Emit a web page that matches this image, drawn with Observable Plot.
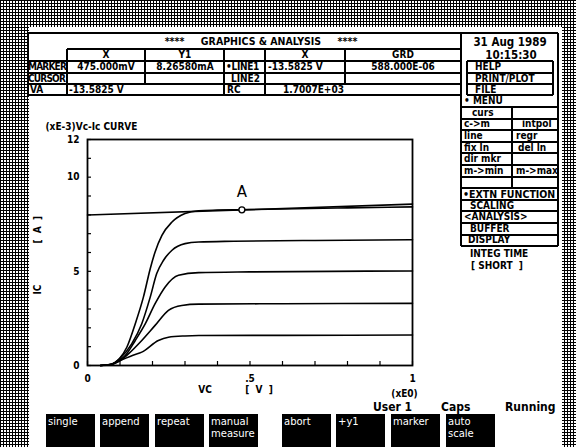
<!DOCTYPE html>
<html>
<head>
<meta charset="utf-8">
<script src="https://cdn.jsdelivr.net/npm/d3@7"></script>
<script src="https://cdn.jsdelivr.net/npm/@observablehq/plot@0.6"></script>
<style>
  html, body { margin: 0; padding: 0; }
  body {
    width: 576px; height: 447px; overflow: hidden; position: relative;
    background-color: #fff;
    background-image: linear-gradient(#000 1px, transparent 1px), linear-gradient(90deg, #000 1px, transparent 1px);
    background-size: 3px 3px;
    font-family: "DejaVu Sans Condensed", "DejaVu Sans", sans-serif;
  }
  #screen { position: absolute; left: 29px; top: 27px; width: 533px; height: 420px; background: #fff; }
  #chart { position: absolute; left: 0; top: 0; }
  .ln { position: absolute; background: #000; }
  .t { position: absolute; font-weight: bold; font-size: 10px; line-height: 10px; white-space: pre; color: #000; }
  .key { position: absolute; background: #000; color: #fff; font-size: 10px; line-height: 12px; white-space: pre; padding: 2px 0 0 2px; box-sizing: border-box; font-family: "DejaVu Sans", sans-serif; }
  .stat { position: absolute; font-size: 12px; line-height: 12px; font-weight: bold; white-space: pre; font-family: "DejaVu Sans Condensed", sans-serif; }
</style>
</head>
<body>
<div id="screen"></div>
<div id="chart"></div>
<div id="overlay"></div>
<script>
// ---------- data ----------
const curveTop = [[0.04,0],[0.07,0.05],[0.098,0.36],[0.121,0.97],[0.147,2.22],[0.172,3.63],[0.193,5.14],[0.208,6.03],[0.229,6.91],[0.26,7.62],[0.3,8.07],[0.342,8.22],[0.4,8.25],[0.475,8.27],[0.6,8.31],[0.8,8.37],[1.0,8.42]];
const curve2 = [[0.04,0],[0.07,0.05],[0.1,0.38],[0.136,1.15],[0.167,2.22],[0.193,3.63],[0.213,4.88],[0.234,5.59],[0.26,6.12],[0.3,6.47],[0.342,6.56],[0.45,6.6],[0.7,6.64],[1.0,6.68]];
const curve3 = [[0.04,0],[0.07,0.05],[0.1,0.3],[0.116,0.53],[0.147,1.33],[0.178,2.22],[0.208,3.28],[0.239,4.17],[0.28,4.79],[0.342,4.93],[0.5,4.97],[0.75,5.0],[1.0,5.02]];
const curve4 = [[0.04,0],[0.07,0.05],[0.106,0.33],[0.126,0.62],[0.167,1.33],[0.208,2.13],[0.249,2.93],[0.29,3.19],[0.342,3.26],[0.6,3.28],[1.0,3.3]];
const curve5 = [[0.04,0],[0.07,0.04],[0.106,0.3],[0.14,0.55],[0.167,0.71],[0.218,1.33],[0.249,1.5],[0.3,1.57],[0.342,1.59],[0.6,1.6],[1.0,1.62]];
const line1 = [[0,7.99],[1,8.57]];           // regression LINE1
const markerA = [[0.475, 8.2658]];
const xTickLabels = {0: "0", 0.5: ".5", 1: "1"};
const yTickLabels = [0, 5, 10, 12];
const xMinorTicks = d3.range(0, 11).map(i => i / 10);
const yMinorTicks = d3.range(0, 13);

const series = [curveTop, curve2, curve3, curve4, curve5].flatMap((c, i) => c.map(([x, y]) => ({x, y, s: i})));
const nb = "\u00a0";

// ---------- chart ----------
const chart = Plot.plot({
  width: 576, height: 447,
  marginLeft: 87, marginRight: 164, marginTop: 139, marginBottom: 82,
  x: {domain: [0, 1]},
  y: {domain: [0, 12]},
  style: {background: "transparent", fontFamily: "DejaVu Sans Condensed, DejaVu Sans, sans-serif", fontSize: "10px", fontWeight: "bold", color: "black"},
  marks: [
    Plot.frame({stroke: "black", strokeWidth: 1.8}),
    Plot.axisY({ticks: yMinorTicks, tickSize: -4, tickFormat: () => "", label: null, strokeWidth: 1.2}),
    Plot.axisX({ticks: xMinorTicks, tickSize: -4, tickFormat: () => "", label: null, strokeWidth: 1.2}),
    Plot.axisY({ticks: yTickLabels, tickSize: 0, tickPadding: 8, tickFormat: d => String(d), label: null}),
    Plot.axisX({ticks: [0, 0.5, 1], tickSize: 0, tickPadding: 9, tickFormat: d => xTickLabels[d], label: null}),
    Plot.line(line1, {x: d => d[0], y: d => d[1], stroke: "black", strokeWidth: 1.6}),
    Plot.line(series, {x: "x", y: "y", z: "s", curve: "monotone-x", stroke: "black", strokeWidth: 1.6}),
    Plot.dot(markerA, {x: d => d[0], y: d => d[1], r: 3, fill: "white", stroke: "black", strokeWidth: 1.4}),
    Plot.text(markerA, {x: d => d[0], y: d => d[1], text: () => "A", dy: -18, fontSize: 15, fontWeight: "normal", fontFamily: "DejaVu Sans, sans-serif"}),
    Plot.text(["(xE-3)Vc-Ic CURVE"], {frameAnchor: "top-left", text: d => d, dx: -42, dy: -17, textAnchor: "start"}),
    Plot.text(["IC"], {frameAnchor: "left", text: d => d, dx: -50, dy: 42, rotate: -90}),
    Plot.text([`[${nb}${nb}A${nb}${nb}]`], {frameAnchor: "left", text: d => d, dx: -50, dy: -9, rotate: -90}),
    Plot.text(["VC"], {frameAnchor: "bottom", text: d => d, dx: -45, dy: 27}),
    Plot.text([`[${nb}${nb}V${nb}${nb}]`], {frameAnchor: "bottom", text: d => d, dx: 9, dy: 27}),
    Plot.text(["(xE0)"], {frameAnchor: "bottom-right", text: d => d, dx: -8, dy: 31, textAnchor: "middle"})
  ]
});
document.getElementById("chart").appendChild(chart);

// ---------- screen chrome ----------
const ov = document.getElementById("overlay");
function line(x1, y1, x2, y2, w = 2) {
  const d = document.createElement("div");
  d.className = "ln";
  if (y1 === y2) { d.style.left = x1 + "px"; d.style.top = (y1 - w / 2) + "px"; d.style.width = (x2 - x1) + "px"; d.style.height = w + "px"; }
  else { d.style.left = (x1 - w / 2) + "px"; d.style.top = y1 + "px"; d.style.width = w + "px"; d.style.height = (y2 - y1) + "px"; }
  ov.appendChild(d);
}
function text(str, x, y, align = "left", cls = "t", extra = {}) {
  const d = document.createElement("div");
  d.className = cls;
  d.textContent = str;
  Object.assign(d.style, extra);
  d.style.top = (y - 5) + "px";
  if (align === "center") { d.style.left = (x - 100) + "px"; d.style.width = "200px"; d.style.textAlign = "center"; }
  else d.style.left = x + "px";
  ov.appendChild(d);
  return d;
}
const tight = {letterSpacing: "-0.8px"};
const big = {fontSize: "11.5px", lineHeight: "11px"};

// header table lines
[[33, 28, 558], [49, 67, 461], [61, 28, 461], [73, 28, 461], [84, 28, 461], [95, 28, 461]].forEach(([y, a, b]) => line(a, y, b, y));
[[28, 33, 95], [67, 49, 95], [145, 49, 84], [224, 49, 95], [265, 49, 95], [345, 49, 84], [461, 33, 246], [558, 33, 246]].forEach(([x, a, b]) => line(x, a, x, b));

// header texts
const headerTitle = "****     GRAPHICS & ANALYSIS     ****";
text(headerTitle, 261, 41, "center", "t", {fontSize: "10.5px"});
[["X", 106], ["Y1", 185], ["X", 305], ["GRD", 403]].forEach(([s, x]) => text(s, x, 55, "center"));
text("MARKER", 28, 67, "left", "t", tight); text("475.000mV", 106, 67, "center"); text("8.26580mA", 185, 67, "center");
text("•LINE1", 226, 67, "left", "t", {letterSpacing: "-0.3px"}); text("-13.5825 V", 268, 67); text("588.000E-06", 403, 67, "center");
text("CURSOR", 28, 79, "left", "t", tight); text("LINE2", 231, 79);
text("VA", 30, 90); text("-13.5825 V", 69, 90); text("RC", 227, 90); text("1.7007E+03", 283, 90);

// right column
text("31 Aug 1989", 510, 42, "center", "t", big);
text("10:15:30", 511, 55, "center", "t", big);
[[61, 73, "HELP"], [73, 84, "PRINT/PLOT"], [84, 95, "FILE"]].forEach(([a, b, s]) => {
  line(467, a, 553, a); line(467, b, 553, b); line(467, a, 467, b); line(553, a, 553, b);
  text(s, 475, (a + b) / 2);
});
text("• MENU", 464, 101);
const menuTop = 107, rowH = 11.6;
for (let i = 0; i <= 12; i++) line(461, menuTop + i * rowH, 558, menuTop + i * rowH);
line(512, menuTop, 512, menuTop + 7 * rowH);
const menuLeft = ["curs", "c->m", "line", "fix ln", "dir mkr", "m->min", "", "•EXTN FUNCTION", "SCALING", "<ANALYSIS>", "BUFFER", "DISPLAY"];
const menuRight = ["", "intpol", "regr", "del ln", "", "m->max", ""];
const leftPad = [472, 464, 464, 464, 464, 464, 464, 463, 470, 464, 470, 468];
const rightPad = [516, 522, 516, 518, 516, 516, 516];
menuLeft.forEach((s, i) => text(s, leftPad[i], menuTop + i * rowH + rowH / 2, "left", "t", i === 7 ? {fontSize: "10.5px"} : {}));
menuRight.forEach((s, i) => text(s, rightPad[i], menuTop + i * rowH + rowH / 2));
text("INTEG TIME", 470, 254);
text("[ SHORT  ]", 471, 266);

// status line
text("User 1", 373, 406, "left", "stat");
text("Caps", 441, 406, "left", "stat");
text("Running", 505, 406, "left", "stat");

// softkeys
const softkeys = [["single", 46], ["append", 100], ["repeat", 155], ["manual\nmeasure", 209], ["abort", 282], ["+y1", 336], ["marker", 391], ["auto\nscale", 446]];
softkeys.forEach(([s, x]) => {
  const d = document.createElement("div");
  d.className = "key";
  d.textContent = s;
  d.style.left = x + "px"; d.style.top = "414px"; d.style.width = "49px"; d.style.height = "33px";
  ov.appendChild(d);
});
</script>
</body>
</html>
